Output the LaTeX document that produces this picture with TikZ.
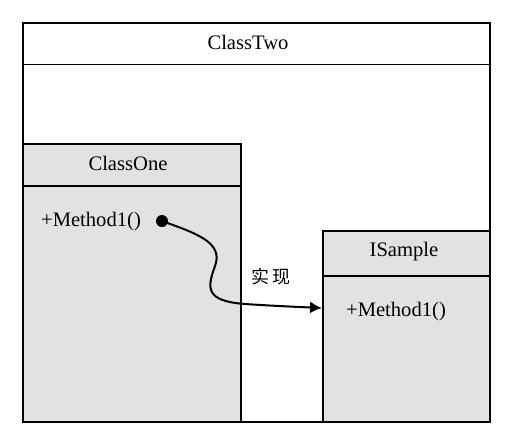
\documentclass[tikz,border=0pt]{standalone}
\usepackage{fontspec}
\setmainfont{Liberation Serif}
\newfontfamily\cjk{Noto Sans CJK SC}
\usetikzlibrary{arrows.meta}
\definecolor{boxgray}{HTML}{E2E2E2}
\begin{document}
\begin{tikzpicture}[x=0.5pt,y=-0.5pt,
    classbox/.style={draw,line width=0.9pt,anchor=north west,inner sep=0pt},
    label/.style={font=\fontsize{10.3}{12}\selectfont,inner sep=0pt},
    link/.style={line width=1pt,-{Latex[length=6pt,width=6pt]}}]
  \useasboundingbox (0,0) rectangle (515,436);
  % boxes
  \node[classbox,fill=white,minimum width=233.5pt,minimum height=199.5pt] (two) at (22,22) {};
  \node[classbox,fill=boxgray,minimum width=109pt,minimum height=139pt] (one) at (22,143) {};
  \node[classbox,fill=boxgray,minimum width=83.5pt,minimum height=95.5pt] (isample) at (322,230) {};
  \begin{scope}[line width=0.9pt]
    \draw ([yshift=-21.25pt]two.north west) -- ([yshift=-21.25pt]two.north east);
    \draw ([yshift=-21.5pt]one.north west) -- ([yshift=-21.5pt]one.north east);
    \draw ([yshift=-23pt]isample.north west) -- ([yshift=-23pt]isample.north east);
  \end{scope}
  % texts
  \node[label] (twoname) at (248,42) {ClassTwo};
  \node[label] (onename) at (128,163) {ClassOne};
  \node[label] (onemethod) at (91,222) {+Method1()};
  \node[label] (isname) at (404,252) {ISample};
  \node[label] (ismethod) at (396,312) {+Method1()};
  \node[label,font=\cjk\fontsize{9}{10}\selectfont] (impl) at (271,277) {实\hspace{1.5pt}现};
  % connector
  \node[circle,fill,inner sep=0pt,minimum size=6pt] (dot) at (162,221) {};
  \coordinate (tip) at (322,308);
  \draw[link] (dot.center) .. controls (195,233) and (224,242) .. (215,266)
    .. controls (207,288) and (205,301) .. (245,304)
    .. controls (275,306) and (300,307) .. (tip);
\end{tikzpicture}
\end{document}
